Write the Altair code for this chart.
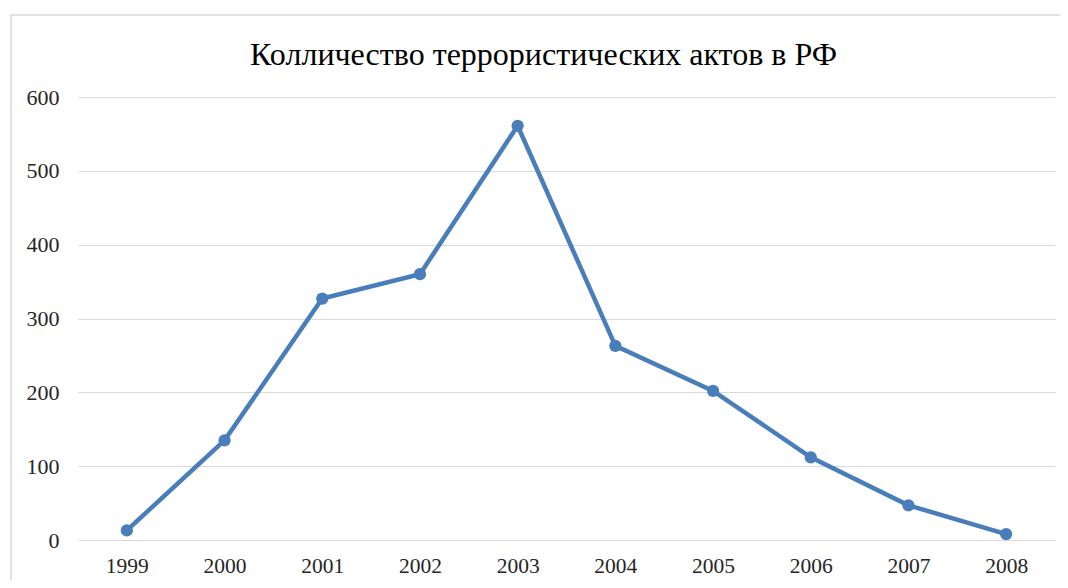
import altair as alt
import pandas as pd

years = ["1999", "2000", "2001", "2002", "2003", "2004", "2005", "2006", "2007", "2008"]
acts = [13, 135, 327, 360, 561, 263, 202, 112, 47, 8]

df = pd.DataFrame({"year": years, "acts": acts})

LINE = "#4A7EBB"
FONT = "Liberation Serif"

x_enc = alt.X("year:O", title=None, sort=years,
              axis=alt.Axis(labelAngle=0, labelFont=FONT, labelFontSize=21.5,
                            labelColor="#262626", labelPadding=15, ticks=False,
                            domain=False, grid=False))
y_enc = alt.Y("acts:Q", title=None,
              scale=alt.Scale(domain=[0, 600], nice=False),
              axis=alt.Axis(values=[0, 100, 200, 300, 400, 500, 600],
                            labelFont=FONT, labelFontSize=22, labelColor="#262626",
                            labelPadding=19, ticks=False, domain=False,
                            gridColor="#d9d9d9", gridWidth=1.2))

frame = alt.Chart(pd.DataFrame({"a": [0]})).mark_rect(
    fill=None, stroke="#d9d9d9", strokeWidth=1.5, clip=False
).encode(x=alt.value(-67), y=alt.value(-82), x2=alt.value(1100), y2=alt.value(600))

line = alt.Chart(df).mark_line(color=LINE, strokeWidth=4.5).encode(x=x_enc, y=y_enc)
pts = alt.Chart(df).mark_point(color=LINE, filled=True, opacity=1, size=150).encode(x=x_enc, y=y_enc)

chart = alt.layer(frame, line, pts).properties(
    width=977, height=443,
    background="white",
    title=alt.TitleParams(text="Колличество террористических актов в РФ",
                          font=FONT, fontSize=32, fontWeight="normal",
                          color="#000000", anchor="middle", frame="group",
                          dx=-23, dy=58, offset=0),
    autosize=alt.AutoSizeParams(type="none"),
    padding={"left": 70, "top": 89, "right": 5, "bottom": 40},
).configure_view(stroke=None)

chart.save("out.html", embed_options={"renderer": "svg", "actions": False})
